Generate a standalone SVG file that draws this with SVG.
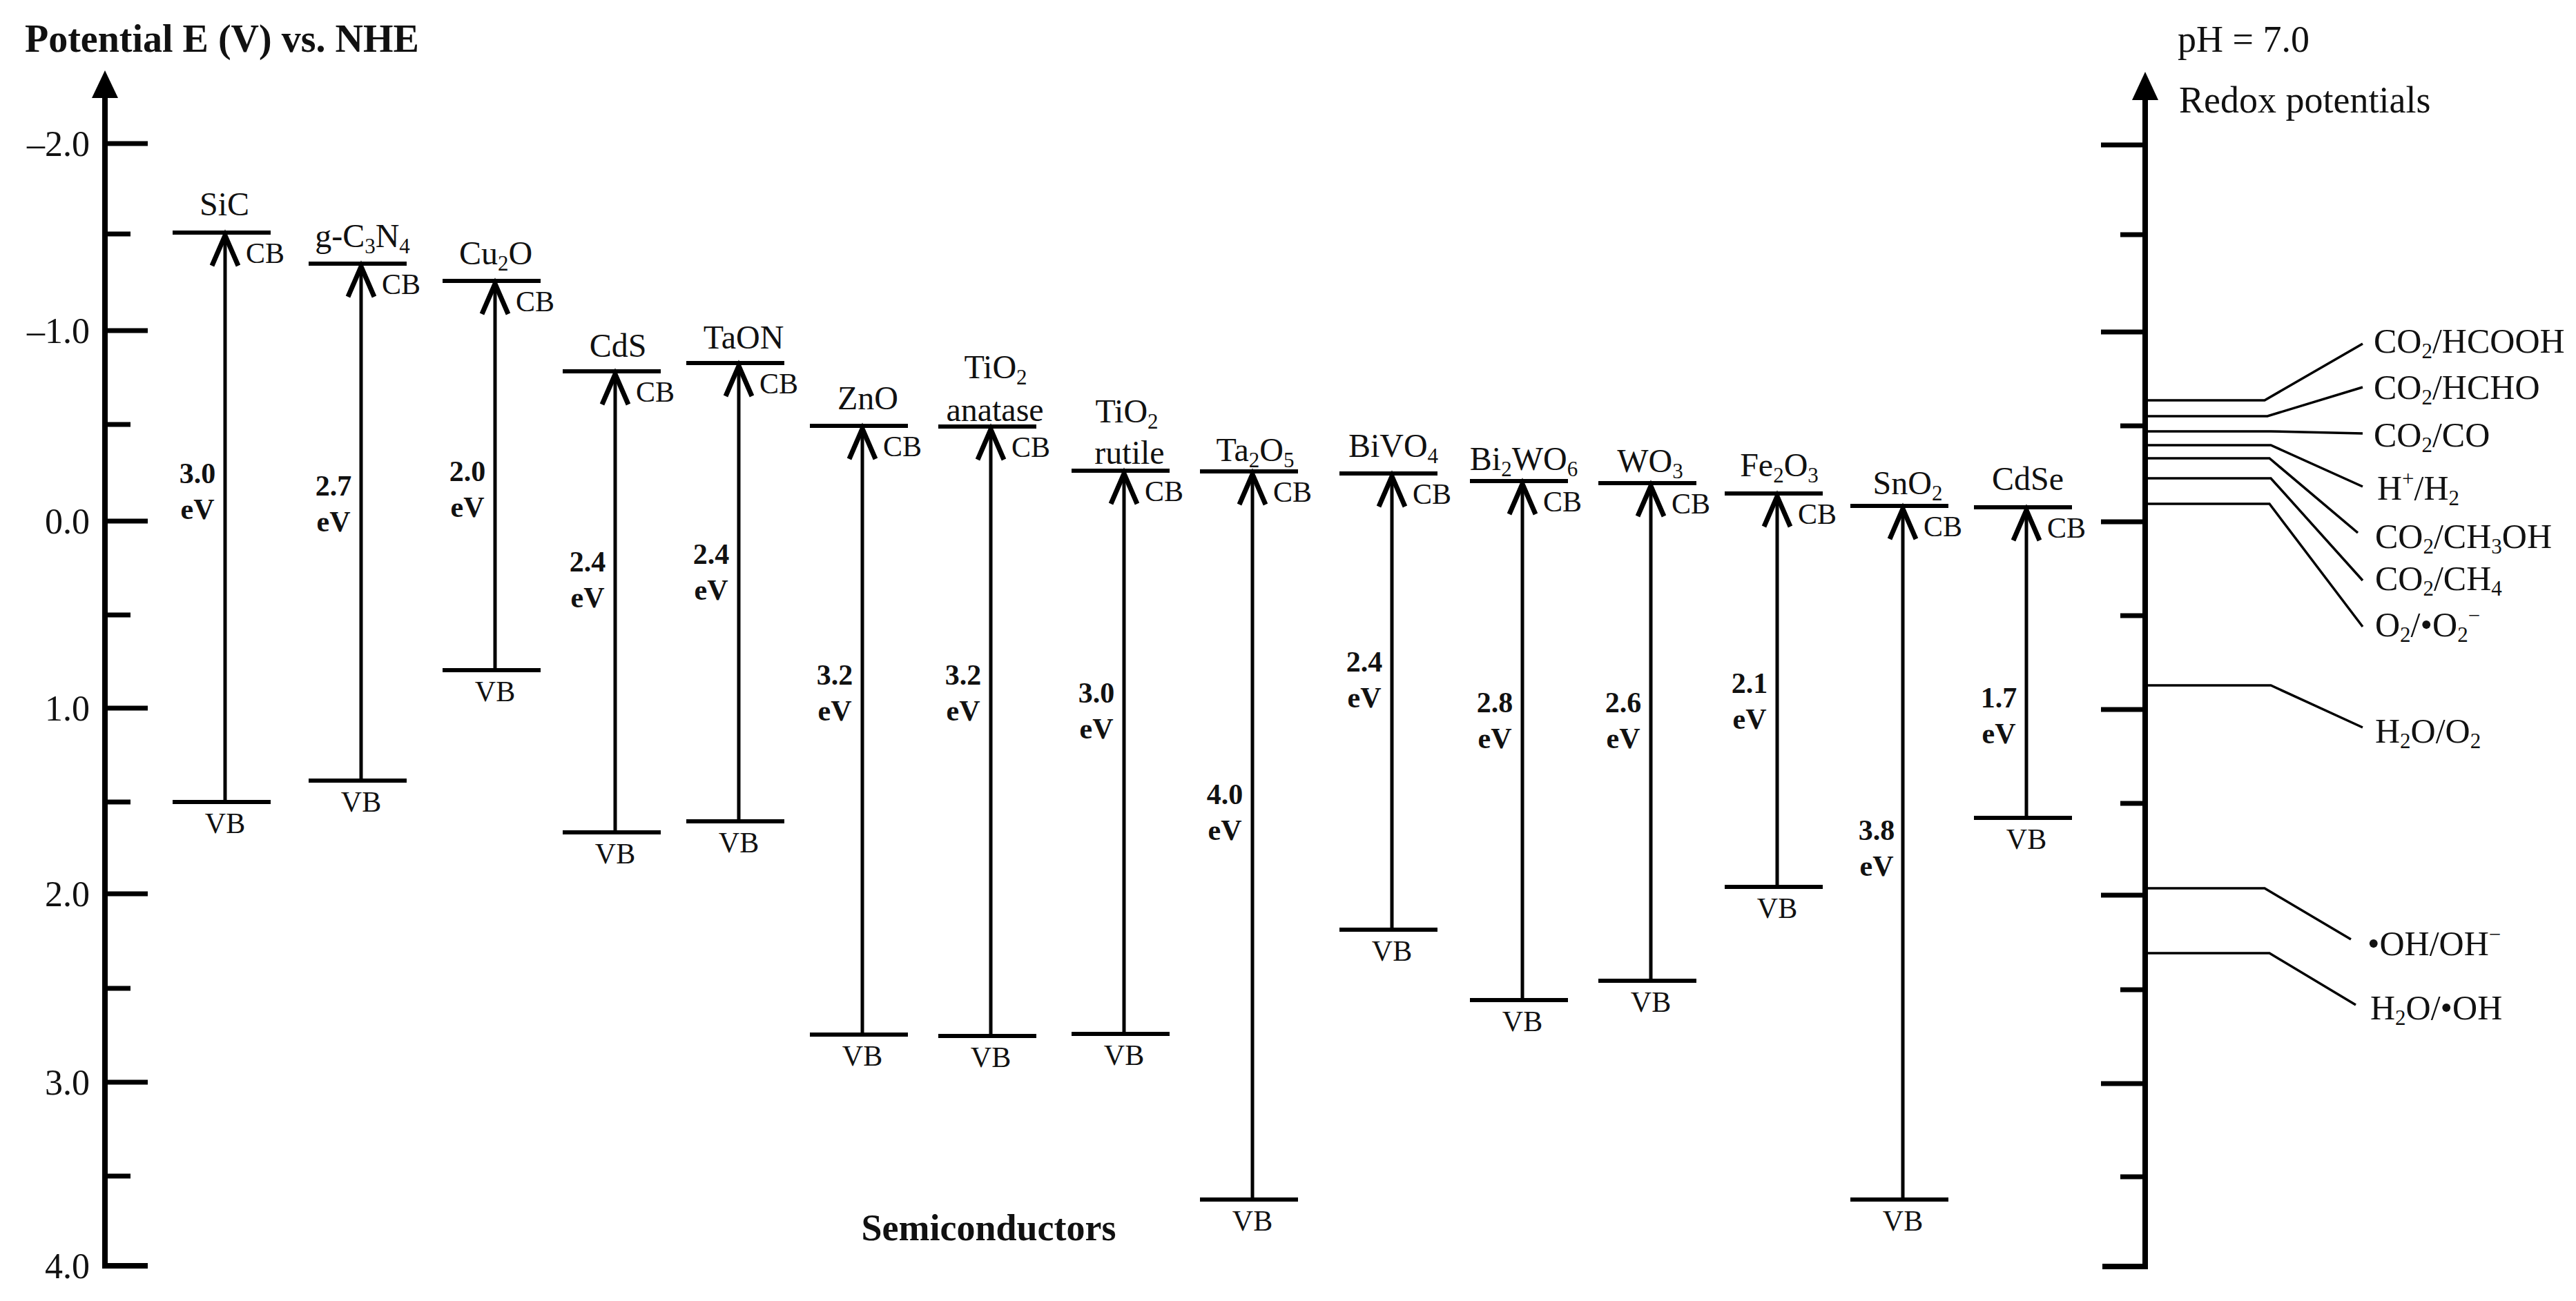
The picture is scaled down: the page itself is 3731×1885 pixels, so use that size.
<svg xmlns="http://www.w3.org/2000/svg" width="3731" height="1885" viewBox="0 0 3731 1885">
<style>
text{font-family:"Liberation Serif","Times New Roman",serif;fill:#111}
.t{font-size:52px}
.n{font-size:48px;text-anchor:middle}
.cb{font-size:42px}
.vb{font-size:42px;text-anchor:middle}
.g{font-size:42px;font-weight:bold;text-anchor:middle}
.r{font-size:50px}
.s{font-size:31px}
.ax{stroke:#000;stroke-width:8;fill:none}
.tk{stroke:#000;stroke-width:7}
.lv{stroke:#000;stroke-width:6}
.sh{stroke:#000;stroke-width:5}
.ch{stroke:#000;stroke-width:7;fill:none}
.rl{stroke:#000;stroke-width:3.5;fill:none}
</style>
<rect width="3731" height="1885" fill="#fff"/>
<g id="left-axis">
<text x="36" y="75" style="font-size:56px;font-weight:bold">Potential E (V) vs. NHE</text>
<polyline class="ax" points="152,138 152,1834 214,1834"/>
<polygon points="152,102 133,142 171,142" fill="#000"/>
<g class="tk">
<line x1="152" y1="208" x2="214" y2="208"/><line x1="152" y1="339" x2="189" y2="339"/>
<line x1="152" y1="479" x2="214" y2="479"/><line x1="152" y1="615" x2="189" y2="615"/>
<line x1="152" y1="755" x2="214" y2="755"/><line x1="152" y1="891" x2="189" y2="891"/>
<line x1="152" y1="1026" x2="214" y2="1026"/><line x1="152" y1="1162" x2="189" y2="1162"/>
<line x1="152" y1="1295" x2="214" y2="1295"/><line x1="152" y1="1432" x2="189" y2="1432"/>
<line x1="152" y1="1568" x2="214" y2="1568"/><line x1="152" y1="1704" x2="189" y2="1704"/>
</g>
<g class="t" text-anchor="end">
<text x="130" y="226">–2.0</text><text x="130" y="497">–1.0</text><text x="130" y="773">0.0</text>
<text x="130" y="1044">1.0</text><text x="130" y="1313">2.0</text><text x="130" y="1586">3.0</text><text x="130" y="1852">4.0</text>
</g>
</g>
<g id="right-axis">
<text x="3154" y="75" style="font-size:54px">pH = 7.0</text>
<text x="3156" y="163" style="font-size:54px">Redox potentials</text>
<polyline class="ax" points="3107,140 3107,1835 3045,1835"/>
<polygon points="3107,104 3088,145 3126,145" fill="#000"/>
<g class="tk">
<line x1="3043" y1="210" x2="3107" y2="210"/><line x1="3071" y1="340" x2="3107" y2="340"/>
<line x1="3043" y1="481" x2="3107" y2="481"/><line x1="3071" y1="617" x2="3107" y2="617"/>
<line x1="3043" y1="756" x2="3107" y2="756"/><line x1="3071" y1="892" x2="3107" y2="892"/>
<line x1="3043" y1="1028" x2="3107" y2="1028"/><line x1="3071" y1="1164" x2="3107" y2="1164"/>
<line x1="3043" y1="1297" x2="3107" y2="1297"/><line x1="3071" y1="1434" x2="3107" y2="1434"/>
<line x1="3043" y1="1570" x2="3107" y2="1570"/><line x1="3071" y1="1705" x2="3107" y2="1705"/>
</g>
</g>
<g id="redox-labels" class="r">
<text x="3438" y="511">CO<tspan class="s" dy="8">2</tspan><tspan dy="-8">/HCOOH</tspan></text>
<text x="3438" y="578">CO<tspan class="s" dy="8">2</tspan><tspan dy="-8">/HCHO</tspan></text>
<text x="3438" y="647">CO<tspan class="s" dy="8">2</tspan><tspan dy="-8">/CO</tspan></text>
<text x="3443" y="724">H<tspan class="s" dy="-20">+</tspan><tspan dy="20">/H</tspan><tspan class="s" dy="8">2</tspan></text>
<text x="3440" y="794">CO<tspan class="s" dy="8">2</tspan><tspan dy="-8">/CH</tspan><tspan class="s" dy="8">3</tspan><tspan dy="-8">OH</tspan></text>
<text x="3440" y="855">CO<tspan class="s" dy="8">2</tspan><tspan dy="-8">/CH</tspan><tspan class="s" dy="8">4</tspan></text>
<text x="3440" y="922">O<tspan class="s" dy="8">2</tspan><tspan dy="-8">/•O</tspan><tspan class="s" dy="8">2</tspan><tspan class="s" dy="-28">−</tspan></text>
<text x="3440" y="1076">H<tspan class="s" dy="8">2</tspan><tspan dy="-8">O/O</tspan><tspan class="s" dy="8">2</tspan></text>
<text x="3429" y="1384">•OH/OH<tspan class="s" dy="-20">−</tspan></text>
<text x="3433" y="1477">H<tspan class="s" dy="8">2</tspan><tspan dy="-8">O/•OH</tspan></text>
</g>
<g id="connectors" class="rl">
<polyline points="3107,580 3280,580 3422,498"/>
<polyline points="3107,603 3284,603 3422,561"/>
<polyline points="3107,625 3289,625 3422,628"/>
<polyline points="3107,645 3289,645 3422,705"/>
<polyline points="3107,664 3287,664 3415,772"/>
<polyline points="3107,693 3289,693 3422,841"/>
<polyline points="3107,730 3287,730 3422,908"/>
<polyline points="3107,993 3289,993 3422,1054"/>
<polyline points="3107,1287 3280,1287 3405,1361"/>
<polyline points="3107,1381 3287,1381 3412,1456"/>
</g>
<g id="SiC">
<line class="lv" x1="250" y1="337" x2="392" y2="337"/><line class="lv" x1="250" y1="1162" x2="392" y2="1162"/>
<line class="sh" x1="326" y1="1162" x2="326" y2="340"/><polyline class="ch" points="307,385 326,341 345,385"/>
<text class="n" x="325" y="312">SiC</text><text class="cb" x="356" y="381">CB</text><text class="vb" x="326" y="1207">VB</text>
<text class="g" x="286" y="700">3.0</text><text class="g" x="286" y="752">eV</text>
</g>
<g id="g-C3N4">
<line class="lv" x1="447" y1="382" x2="589" y2="382"/><line class="lv" x1="447" y1="1131" x2="589" y2="1131"/>
<line class="sh" x1="523" y1="1131" x2="523" y2="385"/><polyline class="ch" points="504,430 523,386 542,430"/>
<text class="n" x="525" y="358">g-C<tspan class="s" dy="9">3</tspan><tspan dy="-9">N</tspan><tspan class="s" dy="9">4</tspan></text><text class="cb" x="553" y="426">CB</text><text class="vb" x="523" y="1176">VB</text>
<text class="g" x="483" y="718">2.7</text><text class="g" x="483" y="770">eV</text>
</g>
<g id="Cu2O">
<line class="lv" x1="641" y1="407" x2="783" y2="407"/><line class="lv" x1="641" y1="971" x2="783" y2="971"/>
<line class="sh" x1="717" y1="971" x2="717" y2="410"/><polyline class="ch" points="698,455 717,411 736,455"/>
<text class="n" x="718" y="383">Cu<tspan class="s" dy="9">2</tspan><tspan dy="-9">O</tspan></text><text class="cb" x="747" y="451">CB</text><text class="vb" x="717" y="1016">VB</text>
<text class="g" x="677" y="697">2.0</text><text class="g" x="677" y="749">eV</text>
</g>
<g id="CdS">
<line class="lv" x1="815" y1="538" x2="957" y2="538"/><line class="lv" x1="815" y1="1206" x2="957" y2="1206"/>
<line class="sh" x1="891" y1="1206" x2="891" y2="541"/><polyline class="ch" points="872,586 891,542 910,586"/>
<text class="n" x="895" y="517">CdS</text><text class="cb" x="921" y="582">CB</text><text class="vb" x="891" y="1251">VB</text>
<text class="g" x="851" y="828">2.4</text><text class="g" x="851" y="880">eV</text>
</g>
<g id="TaON">
<line class="lv" x1="994" y1="526" x2="1136" y2="526"/><line class="lv" x1="994" y1="1190" x2="1136" y2="1190"/>
<line class="sh" x1="1070" y1="1190" x2="1070" y2="529"/><polyline class="ch" points="1051,574 1070,530 1089,574"/>
<text class="n" x="1077" y="505">TaON</text><text class="cb" x="1100" y="570">CB</text><text class="vb" x="1070" y="1235">VB</text>
<text class="g" x="1030" y="817">2.4</text><text class="g" x="1030" y="869">eV</text>
</g>
<g id="ZnO">
<line class="lv" x1="1173" y1="617" x2="1315" y2="617"/><line class="lv" x1="1173" y1="1499" x2="1315" y2="1499"/>
<line class="sh" x1="1249" y1="1499" x2="1249" y2="620"/><polyline class="ch" points="1230,665 1249,621 1268,665"/>
<text class="n" x="1257" y="593">ZnO</text><text class="cb" x="1279" y="661">CB</text><text class="vb" x="1249" y="1544">VB</text>
<text class="g" x="1209" y="992">3.2</text><text class="g" x="1209" y="1044">eV</text>
</g>
<g id="TiO2-anatase">
<line class="lv" x1="1359" y1="618" x2="1501" y2="618"/><line class="lv" x1="1359" y1="1501" x2="1501" y2="1501"/>
<line class="sh" x1="1435" y1="1501" x2="1435" y2="621"/><polyline class="ch" points="1416,666 1435,622 1454,666"/>
<text class="n" x="1442" y="548">TiO<tspan class="s" dy="9">2</tspan></text><text class="n" x="1441" y="610">anatase</text>
<text class="cb" x="1465" y="662">CB</text><text class="vb" x="1435" y="1546">VB</text>
<text class="g" x="1395" y="992">3.2</text><text class="g" x="1395" y="1044">eV</text>
</g>
<g id="TiO2-rutile">
<line class="lv" x1="1552" y1="682" x2="1694" y2="682"/><line class="lv" x1="1552" y1="1498" x2="1694" y2="1498"/>
<line class="sh" x1="1628" y1="1498" x2="1628" y2="685"/><polyline class="ch" points="1609,730 1628,686 1647,730"/>
<text class="n" x="1632" y="612">TiO<tspan class="s" dy="9">2</tspan></text><text class="n" x="1636" y="672">rutile</text>
<text class="cb" x="1658" y="726">CB</text><text class="vb" x="1628" y="1543">VB</text>
<text class="g" x="1588" y="1018">3.0</text><text class="g" x="1588" y="1070">eV</text>
</g>
<g id="Ta2O5">
<line class="lv" x1="1738" y1="683" x2="1880" y2="683"/><line class="lv" x1="1738" y1="1738" x2="1880" y2="1738"/>
<line class="sh" x1="1814" y1="1738" x2="1814" y2="686"/><polyline class="ch" points="1795,731 1814,687 1833,731"/>
<text class="n" x="1818" y="668">Ta<tspan class="s" dy="9">2</tspan><tspan dy="-9">O</tspan><tspan class="s" dy="9">5</tspan></text>
<text class="cb" x="1844" y="727">CB</text><text class="vb" x="1814" y="1783">VB</text>
<text class="g" x="1774" y="1165">4.0</text><text class="g" x="1774" y="1217">eV</text>
</g>
<g id="BiVO4">
<line class="lv" x1="1940" y1="686" x2="2082" y2="686"/><line class="lv" x1="1940" y1="1347" x2="2082" y2="1347"/>
<line class="sh" x1="2016" y1="1347" x2="2016" y2="689"/><polyline class="ch" points="1997,734 2016,690 2035,734"/>
<text class="n" x="2018" y="662">BiVO<tspan class="s" dy="9">4</tspan></text>
<text class="cb" x="2046" y="730">CB</text><text class="vb" x="2016" y="1392">VB</text>
<text class="g" x="1976" y="973">2.4</text><text class="g" x="1976" y="1025">eV</text>
</g>
<g id="Bi2WO6">
<line class="lv" x1="2129" y1="697" x2="2271" y2="697"/><line class="lv" x1="2129" y1="1449" x2="2271" y2="1449"/>
<line class="sh" x1="2205" y1="1449" x2="2205" y2="700"/><polyline class="ch" points="2186,745 2205,701 2224,745"/>
<text class="n" x="2207" y="681">Bi<tspan class="s" dy="9">2</tspan><tspan dy="-9">WO</tspan><tspan class="s" dy="9">6</tspan></text>
<text class="cb" x="2235" y="741">CB</text><text class="vb" x="2205" y="1494">VB</text>
<text class="g" x="2165" y="1032">2.8</text><text class="g" x="2165" y="1084">eV</text>
</g>
<g id="WO3">
<line class="lv" x1="2315" y1="700" x2="2457" y2="700"/><line class="lv" x1="2315" y1="1421" x2="2457" y2="1421"/>
<line class="sh" x1="2391" y1="1421" x2="2391" y2="703"/><polyline class="ch" points="2372,748 2391,704 2410,748"/>
<text class="n" x="2390" y="684">WO<tspan class="s" dy="9">3</tspan></text>
<text class="cb" x="2421" y="744">CB</text><text class="vb" x="2391" y="1466">VB</text>
<text class="g" x="2351" y="1032">2.6</text><text class="g" x="2351" y="1084">eV</text>
</g>
<g id="Fe2O3">
<line class="lv" x1="2498" y1="715" x2="2640" y2="715"/><line class="lv" x1="2498" y1="1285" x2="2640" y2="1285"/>
<line class="sh" x1="2574" y1="1285" x2="2574" y2="718"/><polyline class="ch" points="2555,763 2574,719 2593,763"/>
<text class="n" x="2577" y="690">Fe<tspan class="s" dy="9">2</tspan><tspan dy="-9">O</tspan><tspan class="s" dy="9">3</tspan></text>
<text class="cb" x="2604" y="759">CB</text><text class="vb" x="2574" y="1330">VB</text>
<text class="g" x="2534" y="1004">2.1</text><text class="g" x="2534" y="1056">eV</text>
</g>
<g id="SnO2">
<line class="lv" x1="2680" y1="733" x2="2822" y2="733"/><line class="lv" x1="2680" y1="1738" x2="2822" y2="1738"/>
<line class="sh" x1="2756" y1="1738" x2="2756" y2="736"/><polyline class="ch" points="2737,781 2756,737 2775,781"/>
<text class="n" x="2763" y="716">SnO<tspan class="s" dy="9">2</tspan></text>
<text class="cb" x="2786" y="777">CB</text><text class="vb" x="2756" y="1783">VB</text>
<text class="g" x="2718" y="1217">3.8</text><text class="g" x="2718" y="1269">eV</text>
</g>
<g id="CdSe">
<line class="lv" x1="2859" y1="735" x2="3001" y2="735"/><line class="lv" x1="2859" y1="1185" x2="3001" y2="1185"/>
<line class="sh" x1="2935" y1="1185" x2="2935" y2="738"/><polyline class="ch" points="2916,783 2935,739 2954,783"/>
<text class="n" x="2937" y="710">CdSe</text>
<text class="cb" x="2965" y="779">CB</text><text class="vb" x="2935" y="1230">VB</text>
<text class="g" x="2895" y="1025">1.7</text><text class="g" x="2895" y="1077">eV</text>
</g>
<text x="1432" y="1797" text-anchor="middle" style="font-size:54px;font-weight:bold">Semiconductors</text>
</svg>
